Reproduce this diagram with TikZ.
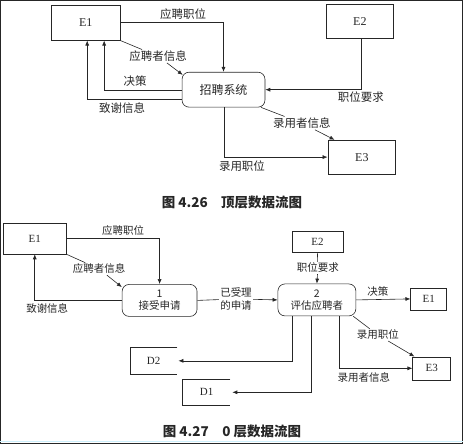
\documentclass[tikz,border=0pt]{standalone}
\usepackage{fontspec}
\setmainfont{Liberation Serif}
\newfontfamily\cjk{Noto Sans CJK SC}
\usetikzlibrary{arrows.meta,calc}
\begin{document}
\begin{tikzpicture}[x=1pt,y=-1pt,
  every path/.style={line width=0.6pt, draw=black!85},
  ent/.style={draw, line width=0.6pt, inner sep=0pt, text=black!85},
  entA/.style={ent, font=\fontsize{12}{14}\selectfont},
  entB/.style={ent, font=\fontsize{11}{13}\selectfont},
  proc/.style={draw, line width=0.6pt, rounded corners=7pt, inner sep=0pt, align=center, text=black!85},
  labA/.style={font=\cjk\fontsize{11.5}{13}\selectfont, inner sep=1pt, text=black!85},
  labB/.style={font=\cjk\fontsize{10.5}{12.5}\selectfont, inner sep=1pt, text=black!85, align=center},
  arr/.style={-{Latex[length=5pt,width=4pt]}},
  capt/.style={font=\cjk\bfseries\fontsize{13.5}{15}\selectfont, text=black!85}
]
\useasboundingbox (0,0) rectangle (463,444);

% ---------- top-level diagram ----------
\node[entA, minimum width=69pt, minimum height=35pt] (E1) at (85.5,22.5) {E1};
\node[entA, minimum width=68pt, minimum height=34pt] (E2) at (360,21) {E2};
\node[entA, minimum width=68pt, minimum height=34pt] (E3) at (362,157) {E3};
\node[proc, minimum width=83pt, minimum height=35pt, font=\cjk\fontsize{12}{14}\selectfont] (P) at (223.5,89.5) {招聘系统};

\node[labA] (l1) at (183,14) {应聘职位};
\node[labA] (l2) at (158,56) {应聘者信息};
\node[labA] (l3) at (135,81) {决策};
\node[labA] (l4) at (122,108) {致谢信息};
\node[labA] (l5) at (361,97) {职位要求};
\node[labA] (l6) at (302,123) {录用者信息};
\node[labA] (l7) at (242,166) {录用职位};

\draw[arr] (E1.east) -| (P.north);
\draw (E1.south east) -- (l2);
\draw[arr] (l2) -- ([shift={(1pt,-3pt)}]P.north west);
\draw[arr] ([yshift=-0.5pt]P.west) -| ([xshift=18.5pt]E1.south);
\draw[arr] ([yshift=-9.5pt]P.west) -| ([xshift=1.5pt]E1.south);
\draw[arr] ([xshift=1pt]E2.south) |- (P.east);
\draw ([xshift=-4pt]P.south east) -- (l6);
\draw[arr] (l6) -- ([xshift=7pt]E3.north west);
\draw[arr] ([xshift=0.5pt]P.south) |- (E3.west);

\node[capt] (c1) at (232,202) {图 4.26\quad 顶层数据流图};

% ---------- level-0 diagram ----------
\node[entB, minimum width=63pt, minimum height=31pt] (F1) at (34.5,238.5) {E1};
\node[entB, minimum width=51pt, minimum height=21pt] (F2) at (317.5,241.5) {E2};
\node[entB, minimum width=36pt, minimum height=22pt] (F1r) at (429,299) {E1};
\node[entB, minimum width=38pt, minimum height=23pt] (F3) at (432,368.5) {E3};
\node[proc, minimum width=75pt, minimum height=32pt, font=\cjk\fontsize{10.5}{12.5}\selectfont] (P1) at (159.5,300.5) {1\\接受申请};
\node[proc, minimum width=78pt, minimum height=32pt, font=\cjk\fontsize{10.5}{12.5}\selectfont] (P2) at (317,300) {2\\评估应聘者};
\node[inner sep=0pt, minimum width=47pt, minimum height=26pt, font=\fontsize{11}{13}\selectfont, text=black!85] (D2) at (153.5,361) {D2};
\node[inner sep=0pt, minimum width=47pt, minimum height=25pt, font=\fontsize{11}{13}\selectfont, text=black!85] (D1) at (206.5,392.5) {D1};
\draw (D2.north east) -- (D2.north west) -- (D2.south west) -- (D2.south east);
\draw (D1.north east) -- (D1.north west) -- (D1.south west) -- (D1.south east);

\node[labB] (m1) at (123,231) {应聘职位};
\node[labB] (m2) at (99,269) {应聘者信息};
\node[labB] (m3) at (47,309) {致谢信息};
\node[labB] (m4) at (236,299) {已受理\\的申请};
\node[labB] (m5) at (318,268) {职位要求};
\node[labB] (m6) at (378,292) {决策};
\node[labB] (m7) at (378,335) {录用职位};
\node[labB] (m8) at (364,378) {录用者信息};

\draw[arr] (F1.east) -| (P1.north);
\draw (F1.south east) -- (m2);
\draw[arr] (m2) -- ([yshift=-3pt]P1.north west);
\draw[arr] (P1.west) -| (F1.south);
\draw (P1.east) -- (m4);
\draw[arr] (m4) -- (P2.west);
\draw (F2.south) -- (m5);
\draw[arr] (m5) -- (P2.north);
\draw[arr] (P2.east) -- (F1r.west);
\draw ([xshift=-3pt]P2.south east) -- (m7);
\draw[arr] (m7) -- ([xshift=2pt]F3.north west);
\draw[arr] ([xshift=22pt]P2.south) |- (F3.west);
\draw[arr] ([xshift=-25pt]P2.south) |- ([xshift=1pt]D2.east);
\draw[arr] ([xshift=-6pt]P2.south) |- ([xshift=2pt]D1.east);

\node[capt] (c2) at (232,432) {图 4.27\quad 0 层数据流图};

\draw[draw=cyan!20, line width=1pt] (0,441.5) -- (463,441.5);
\end{tikzpicture}
\end{document}
